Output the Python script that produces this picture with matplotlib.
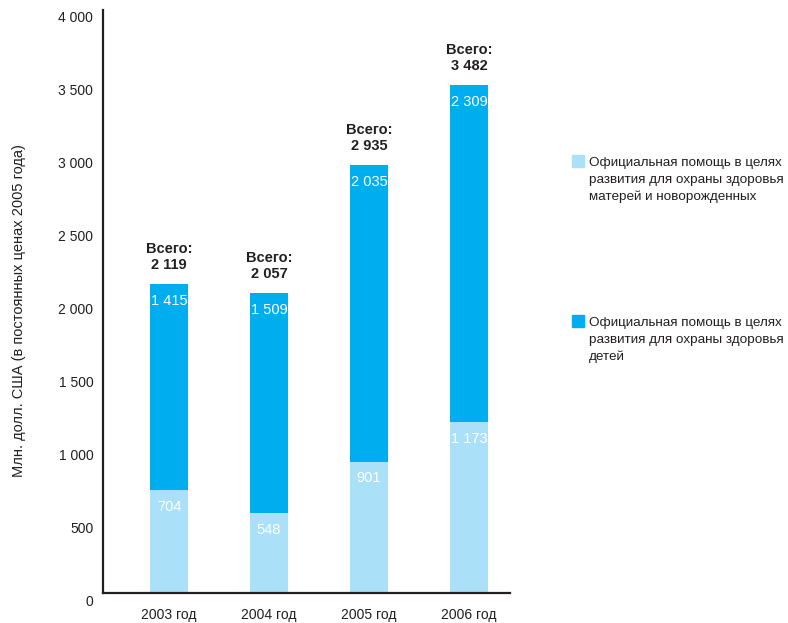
import matplotlib
matplotlib.use("Agg")
import matplotlib.pyplot as plt
from matplotlib.patches import Rectangle
from matplotlib.transforms import ScaledTranslation

plt.rcParams['font.family'] = ['Liberation Sans', 'DejaVu Sans']

years = ['2003 год', '2004 год', '2005 год', '2006 год']
maternal = [704, 548, 901, 1173]
children = [1415, 1509, 2035, 2309]
totals = [2119, 2057, 2935, 3482]
legendLabels = [
    'Официальная помощь в целях\nразвития для охраны здоровья\nматерей и новорожденных',
    'Официальная помощь в целях\nразвития для охраны здоровья\nдетей',
]
yTicks = [0, 500, 1000, 1500, 2000, 2500, 3000, 3500, 4000]

lightBlue = '#aae1f9'
darkBlue = '#00aeef'
inkColor = '#231f20'


def fmt(v):
    return f'{v:,}'.replace(',', ' ')


fig = plt.figure(figsize=(7.88, 6.23), dpi=100)
ax = fig.add_axes([103 / 788, 30 / 623, 407 / 788, 583 / 623])

x = list(range(len(years)))
ax.bar(x, maternal, width=0.38, color=lightBlue, zorder=2)
ax.bar(x, children, width=0.38, bottom=maternal, color=darkBlue, zorder=2)

for i in x:
    ax.annotate(fmt(maternal[i]), (i, maternal[i]), xytext=(0, -12), textcoords='offset points',
                ha='center', va='center', color='white', fontsize=10.5)
    ax.annotate(fmt(children[i]), (i, totals[i]), xytext=(0, -12), textcoords='offset points',
                ha='center', va='center', color='white', fontsize=10.5)
    ax.annotate('Всего:\n' + fmt(totals[i]), (i, totals[i]), xytext=(0, 9), textcoords='offset points',
                ha='center', va='bottom', color=inkColor, fontsize=10.5, fontweight='bold',
                linespacing=1.15)

ax.set_xlim(-0.66, 3.41)
ax.set_ylim(0, 4000)
ax.set_xticks(x)
ax.set_xticklabels(years, fontsize=10, color=inkColor)
ax.set_yticks(yTicks)
ax.set_yticklabels([fmt(v) for v in yTicks], fontsize=10, color=inkColor)
ax.tick_params(axis='x', length=0, pad=11)
ax.tick_params(axis='y', length=0, pad=7)
shift = ScaledTranslation(0, -7 / 100, fig.dpi_scale_trans)
for lab in ax.get_yticklabels():
    lab.set_transform(lab.get_transform() + shift)

for side in ['top', 'right']:
    ax.spines[side].set_visible(False)
for side in ['left', 'bottom']:
    ax.spines[side].set_color(inkColor)
    ax.spines[side].set_linewidth(1.6)

ax.set_ylabel('Млн. долл. США (в постоянных ценах 2005 года)', fontsize=10.5, color=inkColor)
ax.yaxis.set_label_coords((26 - 103) / 407, (593 - 311) / 583)

legendColors = [lightBlue, darkBlue]
legendTops = [155, 315]
for lab, col, top in zip(legendLabels, legendColors, legendTops):
    fig.patches.append(Rectangle((572 / 788, (623 - top - 12) / 623), 12 / 788, 12 / 623,
                                 transform=fig.transFigure, color=col))
    fig.text(589 / 788, (623 - top - 2) / 623, lab, ha='left', va='top', fontsize=9.7,
             color=inkColor, linespacing=1.5)

fig.savefig('out.png', dpi=100)
